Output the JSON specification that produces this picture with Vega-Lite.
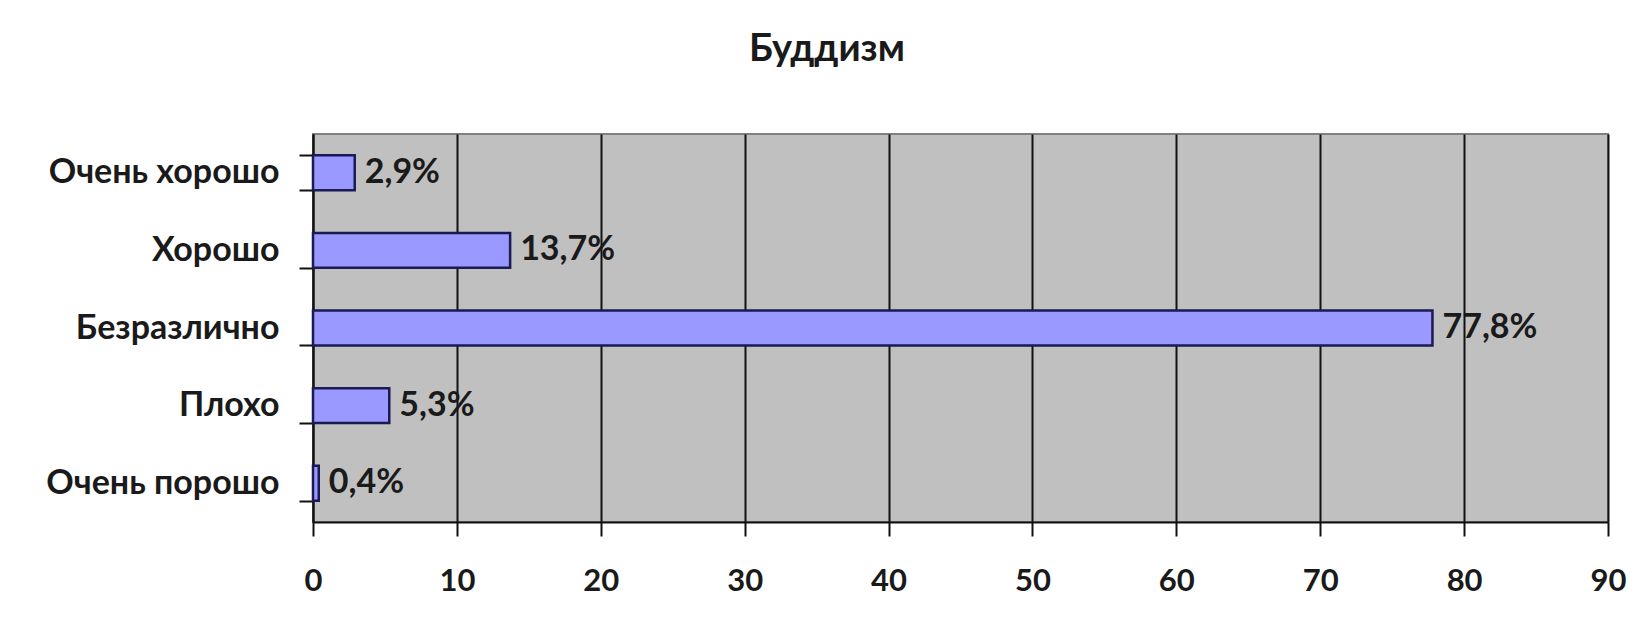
{
  "$schema": "https://vega.github.io/schema/vega-lite/v6.json",
  "autosize": {"type": "none"},
  "width": 1295,
  "height": 388,
  "padding": {"left": 313, "top": 134, "right": 43, "bottom": 95},
  "background": "#ffffff",
  "title": {
    "text": "Буддизм",
    "font": "Lato",
    "fontSize": 38,
    "fontWeight": "bold",
    "color": "#1a1a1a",
    "anchor": "middle",
    "frame": "bounds",
    "baseline": "alphabetic",
    "offset": 18,
    "dx": -9
  },
  "data": {
    "values": [
      {"category": "Очень хорошо", "value": 2.9, "label": "2,9%"},
      {"category": "Хорошо", "value": 13.7, "label": "13,7%"},
      {"category": "Безразлично", "value": 77.8, "label": "77,8%"},
      {"category": "Плохо", "value": 5.3, "label": "5,3%"},
      {"category": "Очень порошо", "value": 0.4, "label": "0,4%"}
    ]
  },
  "encoding": {
    "y": {
      "field": "category",
      "type": "nominal",
      "sort": null,
      "scale": {"paddingInner": 0.55, "paddingOuter": 0.275},
      "axis": {
        "title": null,
        "tickBand": "extent",
        "tickSize": 14,
        "tickWidth": 2,
        "tickColor": "#111111",
        "domainColor": "#111111",
        "domainWidth": 2,
        "labelPadding": 20,
        "labelLimit": 0,
        "labelFont": "Lato",
        "labelFontSize": 34,
        "labelFontWeight": "bold",
        "labelColor": "#1a1a1a",
        "grid": false
      }
    }
  },
  "layer": [
    {
      "mark": {"type": "bar", "fill": "#9999ff", "stroke": "#1a1a55", "strokeWidth": 2.5},
      "encoding": {
        "x": {
          "field": "value",
          "type": "quantitative",
          "scale": {"domain": [0, 90], "nice": false},
          "axis": {
            "title": null,
            "values": [0, 10, 20, 30, 40, 50, 60, 70, 80, 90],
            "tickSize": 14,
            "tickWidth": 2,
            "tickColor": "#111111",
            "domainColor": "#111111",
            "domainWidth": 2,
            "grid": true,
            "gridColor": "#111111",
            "gridWidth": 2,
            "gridOpacity": 1,
            "labelPadding": 30,
            "labelFont": "Lato",
            "labelFontSize": 31,
            "labelFontWeight": "bold",
            "labelColor": "#1a1a1a",
            "labelFlush": false
          }
        }
      }
    },
    {
      "mark": {"type": "text", "align": "left", "baseline": "middle", "dx": 10, "font": "Lato", "fontSize": 34, "fontWeight": "bold", "color": "#1a1a1a"},
      "encoding": {
        "x": {"field": "value", "type": "quantitative"},
        "text": {"field": "label"}
      }
    }
  ],
  "config": {
    "view": {"fill": "#c0c0c0", "stroke": "#808080", "strokeWidth": 2}
  }
}
